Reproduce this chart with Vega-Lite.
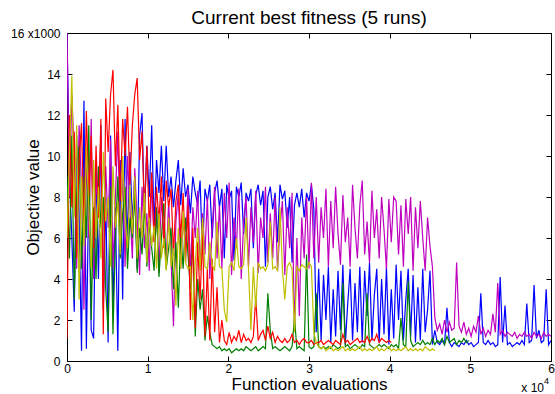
{
"$schema": "https://vega.github.io/schema/vega-lite/v6.json",
"width": 484, "height": 328,
"autosize": {"type": "none"},
"padding": {"left": 67, "top": 33, "right": 4, "bottom": 33},
"background": "white",
"title": {"text": "Current best fitness (5 runs)", "fontSize": 19, "font": "Liberation Sans", "fontWeight": "normal", "color": "black", "offset": 8, "anchor": "middle", "frame": "group", "baseline": "alphabetic", "dy": 24},
"config": {"view": {"stroke": "black", "strokeWidth": 1},
  "axis": {"grid": false, "domainColor": "black", "tickColor": "black", "labelColor": "black", "titleColor": "black", "labelFont": "Liberation Sans", "titleFont": "Liberation Sans", "labelFontSize": 12, "titleFontSize": 17, "titleFontWeight": "normal", "tickSize": -5, "domainWidth": 1, "tickWidth": 1, "labelFlush": false}},
"layer": [
{"data": {"values": [
{"x":0,"R":1.1,"G":9,"B":16,"M":16,"Y":6},
{"x":0.03,"R":12,"G":5,"B":9,"M":8,"Y":10},
{"x":0.06,"R":7.5,"G":11,"B":6,"M":13,"Y":13.9},
{"x":0.09,"R":11.2,"G":3,"B":2.4,"M":10,"Y":7},
{"x":0.12,"R":5,"G":8,"B":11,"M":4.5,"Y":11.5},
{"x":0.15,"R":9.8,"G":10.5,"B":7,"M":11.5,"Y":3},
{"x":0.18,"R":11.6,"G":4.5,"B":0.5,"M":8.5,"Y":9},
{"x":0.21,"R":6.2,"G":9,"B":12.7,"M":2.5,"Y":5.6},
{"x":0.24,"R":12.2,"G":6,"B":0.6,"M":10,"Y":10.5},
{"x":0.27,"R":8,"G":11.5,"B":8.5,"M":6,"Y":7.5},
{"x":0.3,"R":11,"G":2,"B":1.5,"M":11.8,"Y":4.5},
{"x":0.33,"R":5.5,"G":7.5,"B":1.1,"M":4,"Y":9.8},
{"x":0.36,"R":10.5,"G":4,"B":9.5,"M":9,"Y":6},
{"x":0.39,"R":7,"G":9.5,"B":4,"M":7,"Y":8.5},
{"x":0.42,"R":11.8,"G":6.5,"B":11.5,"M":11,"Y":5},
{"x":0.45,"R":1.3,"G":8,"B":2.5,"M":3.5,"Y":10.2},
{"x":0.48,"R":12.8,"G":3.5,"B":8,"M":9.5,"Y":6.8},
{"x":0.51,"R":10.2,"G":1.4,"B":0.9,"M":6.5,"Y":8},
{"x":0.54,"R":13,"G":8.5,"B":11,"M":10.8,"Y":4.6},
{"x":0.57,"R":14.2,"G":1.3,"B":2.5,"M":4.5,"Y":9.5},
{"x":0.6,"R":9.5,"G":6,"B":7.5,"M":8,"Y":6.5},
{"x":0.63,"R":12.5,"G":9,"B":0.5,"M":11.2,"Y":7.8},
{"x":0.66,"R":7.8,"G":5,"B":9.8,"M":6,"Y":5.2},
{"x":0.69,"R":11.8,"G":7.2,"B":3,"M":9.2,"Y":10},
{"x":0.72,"R":10,"G":8.5,"B":11.8,"M":4.6,"Y":7},
{"x":0.75,"R":12.4,"G":4.5,"B":5.5,"M":10,"Y":5.5},
{"x":0.78,"R":8.6,"G":7,"B":10.2,"M":7.5,"Y":8.6},
{"x":0.81,"R":11.5,"G":6,"B":6.8,"M":5,"Y":6.2},
{"x":0.84,"R":13,"G":8.2,"B":9,"M":9.4,"Y":9},
{"x":0.87,"R":13.8,"G":4.3,"B":4.5,"M":6.8,"Y":5},
{"x":0.9,"R":9.8,"G":6.5,"B":11,"M":4.2,"Y":7.5},
{"x":0.93,"R":11.2,"G":5.2,"B":12.1,"M":8.5,"Y":6},
{"x":0.96,"R":7.2,"G":7.8,"B":7,"M":5.5,"Y":8.2},
{"x":0.99,"R":10.5,"G":4.6,"B":10.5,"M":7.2,"Y":4.8},
{"x":1.02,"R":6.5,"G":6.8,"B":8,"M":4.4,"Y":7},
{"x":1.05,"R":9.2,"G":5.5,"B":11.5,"M":8.8,"Y":5.6},
{"x":1.08,"R":5.8,"G":4.4,"B":6.5,"M":5.8,"Y":6.6},
{"x":1.11,"R":8.5,"G":7.5,"B":9.8,"M":7.5,"Y":4.5},
{"x":1.14,"R":6.8,"G":4.1,"B":8.2,"M":4.3,"Y":7.2},
{"x":1.17,"R":9,"G":6,"B":10.5,"M":8,"Y":5},
{"x":1.2,"R":5.5,"G":7.7,"B":7.8,"M":6.2,"Y":6},
{"x":1.23,"R":8.8,"G":4.5,"B":10.5,"M":4.8,"Y":4.4},
{"x":1.26,"R":7.5,"G":5.5,"B":8,"M":7.8,"Y":7},
{"x":1.29,"R":8.4,"G":6.5,"B":9,"M":5,"Y":4.6},
{"x":1.32,"R":5.2,"G":3.5,"B":7.5,"M":1.7,"Y":5.5},
{"x":1.35,"R":7.8,"G":5.8,"B":8.8,"M":6.8,"Y":2.7},
{"x":1.38,"R":8.6,"G":2.6,"B":9.8,"M":8.2,"Y":6.5},
{"x":1.41,"R":6,"G":6.2,"B":7.6,"M":4.5,"Y":4.5},
{"x":1.44,"R":8.2,"G":4.5,"B":9.4,"M":7,"Y":7.3},
{"x":1.47,"R":4.8,"G":7,"B":8,"M":5.5,"Y":4.8},
{"x":1.5,"R":7.6,"G":5.2,"B":8.6,"M":8.4,"Y":4.5},
{"x":1.53,"R":2,"G":3.5,"B":7.2,"M":4.2,"Y":4.6},
{"x":1.56,"R":6.5,"G":6,"B":9,"M":7.5,"Y":2},
{"x":1.59,"R":1.6,"G":1.2,"B":8.2,"M":6,"Y":4.8},
{"x":1.62,"R":5.8,"G":4,"B":7.6,"M":8.3,"Y":6.5},
{"x":1.65,"R":3,"G":2.5,"B":8.8,"M":4.4,"Y":4.4},
{"x":1.68,"R":6.2,"G":3.5,"B":5.2,"M":7.2,"Y":7},
{"x":1.71,"R":1.2,"G":1,"B":8.4,"M":5.2,"Y":4.6},
{"x":1.74,"R":4.5,"G":2.2,"B":7.8,"M":8,"Y":4.5},
{"x":1.77,"R":1,"G":1.4,"B":8.6,"M":4,"Y":5.8},
{"x":1.8,"R":5,"G":0.8,"B":6,"M":6.5,"Y":4.7},
{"x":1.83,"R":1.4,"G":0.7,"B":8.2,"M":8.5,"Y":4.4},
{"x":1.86,"R":3.6,"G":0.6,"B":8.8,"M":5,"Y":6.8},
{"x":1.89,"R":0.9,"G":0.7,"B":7.5,"M":7.6,"Y":4.6},
{"x":1.92,"R":2,"G":0.5,"B":8.4,"M":4.5,"Y":4.5},
{"x":1.95,"R":1,"G":0.6,"B":5,"M":8.2,"Y":2.5},
{"x":1.98,"R":0.8,"G":0.5,"B":8.6,"M":6,"Y":1.9},
{"x":2.01,"R":1.4,"G":0.6,"B":7.9,"M":8.7,"Y":4.6},
{"x":2.04,"R":0.9,"G":0.4,"B":8.3,"M":4.2,"Y":4.8},
{"x":2.07,"R":1.2,"G":0.5,"B":4.9,"M":7,"Y":4.4},
{"x":2.1,"R":1,"G":0.6,"B":8.5,"M":5.5,"Y":6},
{"x":2.13,"R":1.5,"G":0.5,"B":8,"M":8.4,"Y":4.6},
{"x":2.16,"R":0.9,"G":0.6,"B":8.7,"M":4,"Y":4.5},
{"x":2.19,"R":1.3,"G":0.5,"B":6.2,"M":6.8,"Y":4.7},
{"x":2.22,"R":1,"G":0.7,"B":8.2,"M":8,"Y":7},
{"x":2.25,"R":1.1,"G":0.6,"B":7.8,"M":4.6,"Y":4.5},
{"x":2.28,"R":0.9,"G":0.5,"B":8.4,"M":7.5,"Y":1.5},
{"x":2.31,"R":1.2,"G":0.6,"B":5.5,"M":5.8,"Y":4.6},
{"x":2.34,"R":3.1,"G":0.7,"B":8.1,"M":8.3,"Y":2.6},
{"x":2.37,"R":1,"G":0.5,"B":8.6,"M":4.3,"Y":4.8},
{"x":2.4,"R":1.3,"G":0.6,"B":7.6,"M":7,"Y":4.5},
{"x":2.43,"R":1.5,"G":0.7,"B":8.3,"M":6,"Y":4.6},
{"x":2.46,"R":1,"G":0.6,"B":4.6,"M":8.5,"Y":4.4},
{"x":2.49,"R":1.7,"G":3.3,"B":8,"M":4.8,"Y":4.7},
{"x":2.52,"R":1.1,"G":1.5,"B":8.5,"M":7.2,"Y":6.8},
{"x":2.55,"R":1.4,"G":0.6,"B":7.4,"M":5,"Y":4.5},
{"x":2.58,"R":0.9,"G":0.7,"B":8.2,"M":8,"Y":4.6},
{"x":2.61,"R":1.2,"G":0.6,"B":5.8,"M":4.4,"Y":4.4},
{"x":2.64,"R":1,"G":0.5,"B":8.6,"M":6.5,"Y":7.5},
{"x":2.67,"R":0.9,"G":0.6,"B":7.9,"M":7.8,"Y":4.5},
{"x":2.7,"R":1.1,"G":0.7,"B":8.3,"M":4.2,"Y":3},
{"x":2.73,"R":0.9,"G":0.6,"B":6.5,"M":7.5,"Y":4.6},
{"x":2.76,"R":1,"G":0.5,"B":8,"M":5.5,"Y":4.8},
{"x":2.79,"R":1.3,"G":0.7,"B":4.8,"M":8.2,"Y":4.5},
{"x":2.82,"R":0.9,"G":2.1,"B":7.6,"M":1.5,"Y":1.4},
{"x":2.85,"R":1,"G":0.6,"B":8.2,"M":6,"Y":4.6},
{"x":2.88,"R":0.8,"G":0.7,"B":7.5,"M":2.2,"Y":4.4},
{"x":2.91,"R":1,"G":0.6,"B":8.4,"M":7,"Y":4.7},
{"x":2.94,"R":1.1,"G":0.5,"B":7,"M":5,"Y":4.6},
{"x":2.97,"R":0.9,"G":5.2,"B":8.2,"M":8,"Y":4.5},
{"x":3,"R":0.9,"G":0.7,"B":7.8,"M":4.5,"Y":4.8},
{"x":3.03,"R":1,"G":0.6,"B":8.6,"M":8.7,"Y":4.6},
{"x":3.06,"R":0.8,"G":0.7,"B":7.4,"M":5,"Y":1.4},
{"x":3.09,"R":0.9,"G":3.3,"B":1.4,"M":8,"Y":0.9},
{"x":3.12,"R":0.9,"G":0.7,"B":4.5,"M":4.8,"Y":0.7},
{"x":3.15,"R":1,"G":0.6,"B":1,"M":7.5,"Y":0.6},
{"x":3.18,"R":0.8,"G":0.7,"B":4.2,"M":6,"Y":0.7},
{"x":3.21,"R":0.9,"G":0.6,"B":2,"M":8.4,"Y":0.5},
{"x":3.24,"R":1,"G":0.7,"B":4.6,"M":4.6,"Y":0.6},
{"x":3.27,"R":0.9,"G":0.6,"B":0.9,"M":7.8,"Y":0.7},
{"x":3.3,"R":0.8,"G":0.8,"B":3.5,"M":5.5,"Y":0.5},
{"x":3.33,"R":1,"G":0.7,"B":1.2,"M":8.5,"Y":0.6},
{"x":3.36,"R":0.9,"G":0.6,"B":4.4,"M":6.2,"Y":0.5},
{"x":3.39,"R":0.8,"G":0.7,"B":1.5,"M":4.7,"Y":0.6},
{"x":3.42,"R":1.3,"G":3.8,"B":4.7,"M":8.1,"Y":0.7},
{"x":3.45,"R":0.9,"G":0.7,"B":0.8,"M":5.8,"Y":0.5},
{"x":3.48,"R":1,"G":0.8,"B":2.8,"M":7,"Y":0.6},
{"x":3.51,"R":0.8,"G":0.6,"B":4.5,"M":4.6,"Y":0.5},
{"x":3.54,"R":0.9,"G":0.7,"B":1,"M":8.6,"Y":0.6},
{"x":3.57,"R":1,"G":0.8,"B":3.8,"M":6.5,"Y":0.5},
{"x":3.6,"R":1.1,"G":0.7,"B":1.4,"M":5,"Y":0.6},
{"x":3.63,"R":0.9,"G":0.6,"B":4.6,"M":7.6,"Y":0.7},
{"x":3.66,"R":1,"G":0.8,"B":0.9,"M":8.8,"Y":0.5},
{"x":3.69,"R":0.9,"G":0.7,"B":4.4,"M":5.2,"Y":0.6},
{"x":3.72,"R":1.2,"G":3.3,"B":2.2,"M":6.8,"Y":0.5},
{"x":3.75,"R":0.9,"G":0.8,"B":4.8,"M":4.8,"Y":0.6},
{"x":3.78,"R":1.1,"G":0.7,"B":1,"M":8.3,"Y":0.5},
{"x":3.81,"R":1,"G":0.6,"B":3.2,"M":6,"Y":0.6},
{"x":3.84,"R":1.3,"G":0.7,"B":4.5,"M":7.4,"Y":0.7},
{"x":3.87,"R":0.9,"G":0.8,"B":0.9,"M":5,"Y":0.5},
{"x":3.9,"R":1.1,"G":0.7,"B":4,"M":8,"Y":0.6},
{"x":3.93,"R":1,"G":0.8,"B":1.3,"M":6.4,"Y":0.5},
{"x":3.96,"R":0.9,"G":0.7,"B":4.6,"M":4.5,"Y":0.6},
{"x":3.99,"R":1,"G":0.6,"B":0.8,"M":7.9,"Y":0.7},
{"x":4.02,"R":0.9,"G":0.8,"B":3.5,"M":5.8,"Y":0.5},
{"x":4.05,"G":0.7,"B":1.1,"M":8,"Y":0.6},
{"x":4.08,"G":0.8,"B":4.7,"M":7.8,"Y":0.5},
{"x":4.11,"G":0.6,"B":2,"M":5.2,"Y":0.6},
{"x":4.14,"G":2.1,"B":4.4,"M":7.6,"Y":0.5},
{"x":4.17,"G":0.8,"B":1,"M":4.6,"Y":0.6},
{"x":4.2,"G":0.7,"B":3,"M":7.9,"Y":0.7},
{"x":4.23,"G":3.9,"B":4.5,"M":6.2,"Y":0.5},
{"x":4.26,"G":1,"B":1.2,"M":8,"Y":0.6},
{"x":4.29,"G":0.7,"B":4.2,"M":4.4,"Y":0.5},
{"x":4.32,"G":0.8,"B":0.9,"M":7.5,"Y":0.6},
{"x":4.35,"G":0.9,"B":3.6,"M":5.5,"Y":0.5},
{"x":4.38,"G":0.8,"B":1,"M":7.8,"Y":0.6},
{"x":4.41,"G":1,"B":4.5,"M":6,"Y":0.5},
{"x":4.44,"G":0.8,"B":1.4,"M":4.4,"Y":0.7},
{"x":4.47,"G":0.9,"B":2.5,"M":7,"Y":0.6},
{"x":4.5,"G":0.8,"B":4.4,"M":5.6,"Y":0.5},
{"x":4.53,"G":1.1,"B":0.8,"M":4.6,"Y":0.6},
{"x":4.56,"G":0.8,"B":1.5,"M":2.1,"Y":0.5},
{"x":4.59,"G":1,"B":0.9,"M":1.5},
{"x":4.62,"G":0.9,"B":0.8,"M":1.8},
{"x":4.65,"G":1.1,"B":1,"M":1.3},
{"x":4.68,"G":0.8,"B":0.8,"M":2},
{"x":4.71,"G":1.2,"B":2.6,"M":1.4},
{"x":4.74,"G":0.9,"B":0.9,"M":1.9},
{"x":4.77,"G":1,"B":0.7,"M":1.5},
{"x":4.8,"G":1.1,"B":0.9,"M":1.6},
{"x":4.83,"G":0.8,"B":0.8,"M":4.8},
{"x":4.86,"G":1,"B":0.7,"M":1.7},
{"x":4.89,"G":0.9,"B":0.9,"M":1.4},
{"x":4.92,"G":1.1,"B":0.8,"M":1.9},
{"x":4.95,"G":0.9,"B":1,"M":1.3},
{"x":4.98,"G":1,"B":0.8,"M":1.6},
{"x":5.01,"B":0.9,"M":1.2},
{"x":5.04,"B":0.7,"M":1.7},
{"x":5.07,"B":0.8,"M":1.4},
{"x":5.1,"B":0.9,"M":2.2},
{"x":5.13,"B":3.3,"M":1.3},
{"x":5.16,"B":0.9,"M":1.6},
{"x":5.19,"B":0.8,"M":1.2},
{"x":5.22,"B":1,"M":1.5},
{"x":5.25,"B":0.8,"M":1.3},
{"x":5.28,"B":0.9,"M":2.3},
{"x":5.31,"B":0.7,"M":1.4},
{"x":5.34,"B":0.8,"M":3.8},
{"x":5.37,"B":4.1,"M":1.3},
{"x":5.4,"B":0.9,"M":1.5},
{"x":5.43,"B":2.7,"M":1.2},
{"x":5.46,"B":0.8,"M":1.4},
{"x":5.49,"B":0.9,"M":1.3},
{"x":5.52,"B":0.7,"M":1.2},
{"x":5.55,"B":0.8,"M":1.4},
{"x":5.58,"B":0.9,"M":1.1},
{"x":5.61,"B":0.8,"M":1.3},
{"x":5.64,"B":1,"M":1.2},
{"x":5.67,"B":0.8,"M":1.4},
{"x":5.7,"B":2.8,"M":1.2},
{"x":5.73,"B":0.9,"M":1.3},
{"x":5.76,"B":1,"M":1.1},
{"x":5.79,"B":3.7,"M":1.4},
{"x":5.82,"B":1.1,"M":1.2},
{"x":5.85,"B":1.5,"M":1.3},
{"x":5.88,"B":0.9,"M":1.1},
{"x":5.91,"B":1,"M":1.4},
{"x":5.94,"B":3.5,"M":1.2},
{"x":5.97,"B":0.8,"M":1.3},
{"x":6,"B":1,"M":1.2}
]},
"transform": [{"fold": ["B","M","G","R","Y"], "as": ["run","v"]}, {"filter": "isValid(datum.v)"}],
"mark": {"type": "line", "strokeWidth": 1.2, "clip": true},
"encoding": {
 "x": {"field": "x", "type": "quantitative", "scale": {"domain": [0, 6], "nice": false},
   "axis": {"values": [0,1,2,3,4,5,6], "title": "Function evaluations", "labelPadding": 7, "titleX": 242, "titleY": 28, "titleBaseline": "alphabetic"}},
 "y": {"field": "v", "type": "quantitative", "scale": {"domain": [0, 16], "nice": false},
   "axis": {"values": [0,2,4,6,8,10,12,14,16], "labelExpr": "datum.value == 16 ? '16 x1000' : datum.label", "title": "Objective value", "labelPadding": 12, "titleX": -34, "titleY": 164, "titleBaseline": "middle"}},
 "color": {"field": "run", "type": "nominal", "legend": null,
   "scale": {"domain": ["B","M","G","R","Y"], "range": ["#0000ff","#bf00bf","#008000","#ff0000","#bfbf00"]}},
 "order": {"field": "x", "type": "quantitative"}
}},
{"data": {"values": [{}]},
 "mark": {"type": "text", "text": "x 10", "align": "right", "baseline": "alphabetic", "dx": -7, "dy": 31, "fontSize": 12, "font": "Liberation Sans", "color": "black"},
 "encoding": {
  "x": {"datum": 6, "type": "quantitative", "axis": {"orient": "top", "labels": false, "title": null, "values": [0,1,2,3,4,5,6]}},
  "y": {"datum": 0, "type": "quantitative", "axis": {"orient": "right", "labels": false, "title": null, "values": [0,2,4,6,8,10,12,14,16]}}
 }},
{"data": {"values": [{}]},
 "mark": {"type": "text", "text": "4", "align": "left", "baseline": "alphabetic", "dx": -7, "dy": 23, "fontSize": 9, "font": "Liberation Sans", "color": "black"},
 "encoding": {
  "x": {"datum": 6, "type": "quantitative", "axis": null},
  "y": {"datum": 0, "type": "quantitative", "axis": null}
 }}
],
"resolve": {"axis": {"x": "independent", "y": "independent"}}
}
